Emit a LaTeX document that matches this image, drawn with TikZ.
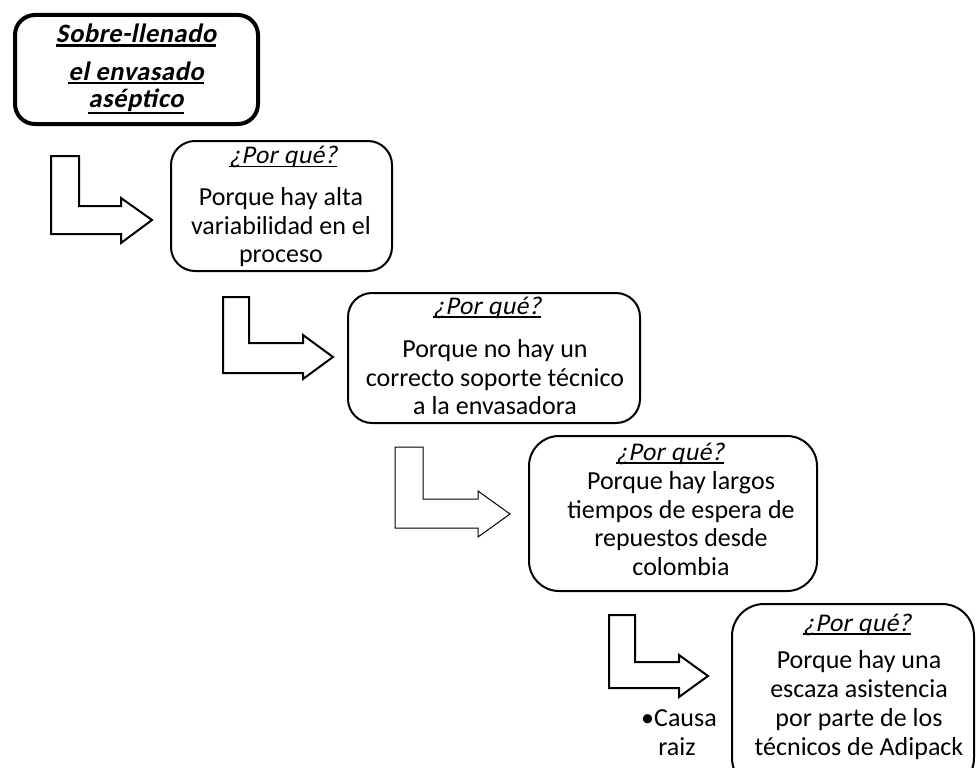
\documentclass[tikz,border=0pt]{standalone}
\usepackage{fontspec}
\setmainfont{Carlito}
\newfontfamily\qfont[FakeSlant=0.2,LetterSpace=2]{Carlito}
\newfontfamily\ttlfont[FakeSlant=0.2,LetterSpace=2]{Carlito}
\newcommand\ulx[3]{\setbox0\hbox{#1}\rlap{\rule[-#2]{\wd0}{#3}}\box0}
\begin{document}
\begin{tikzpicture}[x=1pt,y=-1pt,
  box/.style={draw=black,line width=2pt,rounded corners=24pt},
  bentarrow/.style={draw=black,line width=2pt,fill=white,line join=miter},
  ln/.style={anchor=base,inner sep=0pt,font=\fontsize{26}{28.5}\selectfont},
  qn/.style={anchor=base,inner sep=0pt,font=\fontsize{25.5}{28}\qfont},
  tn/.style={anchor=base,inner sep=0pt,font=\fontsize{26.5}{28}\ttlfont\bfseries}]
\useasboundingbox (0,0) rectangle (977,768);
\clip (0,0) rectangle (977,768);
% box 1
\draw[line width=4pt,rounded corners=20pt] (15,15) rectangle (258,124);
\node[tn] (t1a) at (136,43) {\ulx{Sobre-llenado}{4pt}{2.5pt}};
\node[tn] (t1b) at (136,80.5) {\ulx{el envasado}{3.5pt}{2.5pt}};
\node[tn] (t1c) at (136,107.5) {\ulx{aséptico}{6.5pt}{2.5pt}};
% arrows
\draw[bentarrow] (51,156) -- (79,156) -- (79,206) -- (121,206) -- (121,198) -- (152,220) -- (121,243) -- (121,234) -- (51,234) -- cycle;
\draw[bentarrow] (223,297) -- (249,297) -- (249,343) -- (303,343) -- (303,335) -- (333,357) -- (303,379) -- (303,373) -- (223,373) -- cycle;
\draw[bentarrow,line width=1pt] (395,447) -- (423,447) -- (423,499) -- (478,499) -- (478,491) -- (510,514) -- (478,537) -- (478,528) -- (395,528) -- cycle;
\draw[bentarrow] (609,615) -- (635,615) -- (635,662) -- (679,662) -- (679,655) -- (708,676) -- (679,697) -- (679,688) -- (609,688) -- cycle;
% box 2
\draw[box] (171,141) rectangle (392,271);
\node[qn] (q2) at (283,163.5) {\ulx{¿Por qué?}{3.5pt}{1.5pt}};
\node[ln] (a2a) at (281,205.5) {Porque hay alta};
\node[ln] (a2b) at (281,234) {variabilidad en el};
\node[ln] (a2c) at (281,262.5) {proceso};
% box 3
\draw[box] (348,293) rectangle (640,423);
\node[qn] (q3) at (487,314) {\ulx{¿Por qué?}{3.5pt}{1.5pt}};
\node[ln] (a3a) at (495,357.5) {Porque no hay un};
\node[ln] (a3b) at (495,386) {correcto soporte técnico};
\node[ln] (a3c) at (495,414.5) {a la envasadora};
% box 4
\draw[box,rounded corners=30pt] (529,436) rectangle (817,591);
\node[qn] (q4) at (670,460) {\ulx{¿Por qué?}{3.5pt}{1.5pt}};
\node[ln] (a4a) at (681,489.5) {Porque hay largos};
\node[ln] (a4b) at (681,518) {tiempos de espera de};
\node[ln] (a4c) at (681,546.5) {repuestos desde};
\node[ln] (a4d) at (681,575) {colombia};
% box 5
\draw[box,rounded corners=32pt] (732,604) rectangle (974,790);
\node[qn] (q5) at (857,631) {\ulx{¿Por qué?}{3.5pt}{1.5pt}};
\node[ln] (a5a) at (859,668.5) {Porque hay una};
\node[ln] (a5b) at (859,697.5) {escaza asistencia};
\node[ln] (a5c) at (859,726.5) {por parte de los};
\node[ln] (a5d) at (859,755) {técnicos de Adipack};
% root cause label
\node[ln,anchor=base west] (c1) at (641,726.5) {\textbullet Causa};
\node[ln] (c2) at (677,755) {raiz};
\end{tikzpicture}
\end{document}
